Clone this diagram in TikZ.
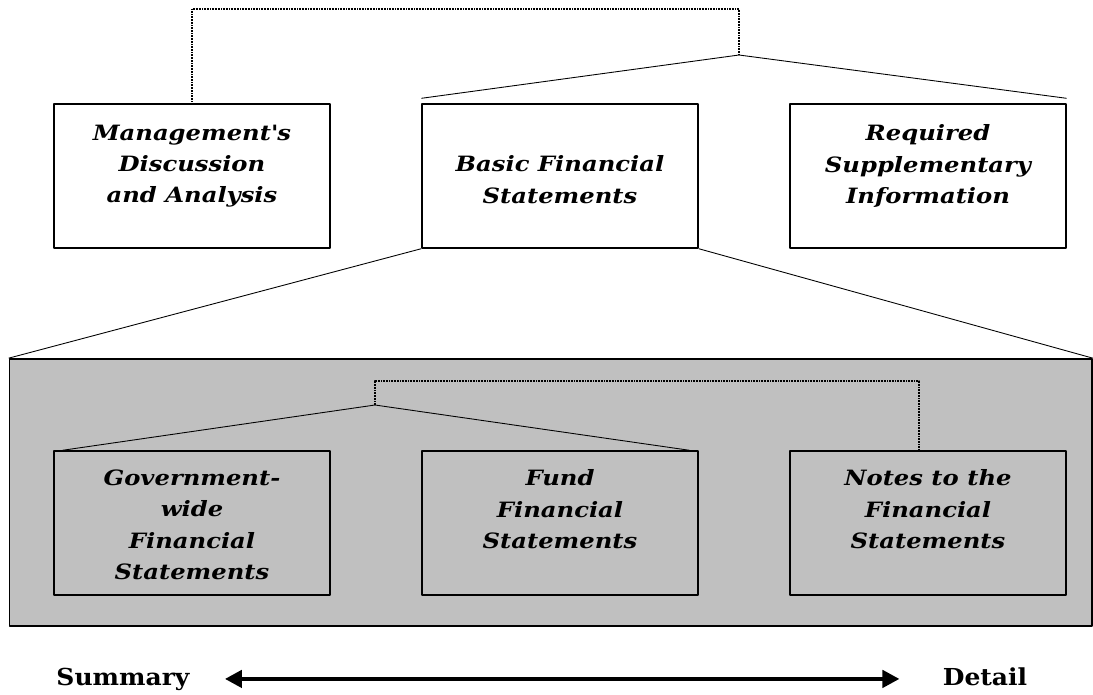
\documentclass[tikz,border=0pt]{standalone}
\usepackage{fontspec}
\setmainfont{DejaVu Serif}
\newfontfamily\boxfont[FakeStretch=1.15]{DejaVu Serif}
\newfontfamily\endfont[FakeStretch=1.07]{DejaVu Serif}
\usetikzlibrary{positioning,arrows.meta}
\definecolor{panelgray}{RGB}{192,192,192}
\begin{document}
\begin{tikzpicture}[x=0.02cm, y=-0.02cm, line join=round,
	box/.style={draw, line width=0.8pt, minimum width=5.52cm, minimum height=2.88cm, inner sep=0pt},
	txt/.style={align=center, inner sep=0pt, font=\boxfont\fontsize{12}{17.9}\selectfont\bfseries\itshape},
	conn/.style={line width=0.5pt},
	bracket/.style={line width=0.6pt, dash pattern=on 0.45pt off 0.45pt},
	endlabel/.style={inner sep=0pt, font=\endfont\fontsize{13.3}{16}\selectfont\bfseries}]
	\useasboundingbox (0,0) rectangle (1093,694);
	% upper row
	\node[box] (mda) at (192,176) {};
	\node[box] (bfs) at (560,176) {};
	\node[box] (rsi) at (928,176) {};
	\node[txt, below=0.42cm of mda.north] (mda-t) {Management\textquotesingle s\\Discussion\\and Analysis};
	\node[txt, below=1.04cm of bfs.north] (bfs-t) {Basic Financial\\Statements};
	\node[txt, below=0.42cm of rsi.north] (rsi-t) {Required\\Supplementary\\Information};
	\coordinate (top-hub) at (739,55);
	\draw[bracket] (mda.north) |- (739,9) -- (top-hub);
	\draw[conn] ([yshift=0.1cm]bfs.north west) -- (top-hub) -- ([yshift=0.1cm]rsi.north east);
	% shaded panel with the statements
	\node[draw, fill=panelgray, line width=1pt, minimum width=21.65cm, minimum height=5.34cm, inner sep=0pt] (panel) at (550.75,492.5) {};
	\draw[conn] (bfs.south west) -- (panel.north west);
	\draw[conn] (bfs.south east) -- (panel.north east);
	\node[box, fill=panelgray] (gov) at (192,523) {};
	\node[box, fill=panelgray] (fund) at (560,523) {};
	\node[box, fill=panelgray] (notes) at (928,523) {};
	\node[txt, below=0.38cm of gov.north] (gov-t) {Government-\\wide\\Financial\\Statements};
	\node[txt, below=0.38cm of fund.north] (fund-t) {Fund\\Financial\\Statements};
	\node[txt, below=0.38cm of notes.north] (notes-t) {Notes to the\\Financial\\Statements};
	\coordinate (mid-hub) at (375,405);
	\draw[bracket] (mid-hub) |- (919,381) -- (notes.north -| 919,0);
	\draw[conn] ([xshift=0.18cm]gov.north west) -- (mid-hub) -- ([xshift=-0.18cm]fund.north east);
	% summary / detail scale
	\node[endlabel, anchor=base] (summ) at (123,685) {Summary};
	\node[endlabel, anchor=base] (det) at (985,685) {Detail};
	\draw[{Triangle[length=0.34cm,width=0.34cm]}-{Triangle[length=0.34cm,width=0.34cm]}, line width=2.4pt, shorten <=0.7cm, shorten >=0.86cm] (summ.east) -- (summ.east -| det.west);
\end{tikzpicture}
\end{document}
